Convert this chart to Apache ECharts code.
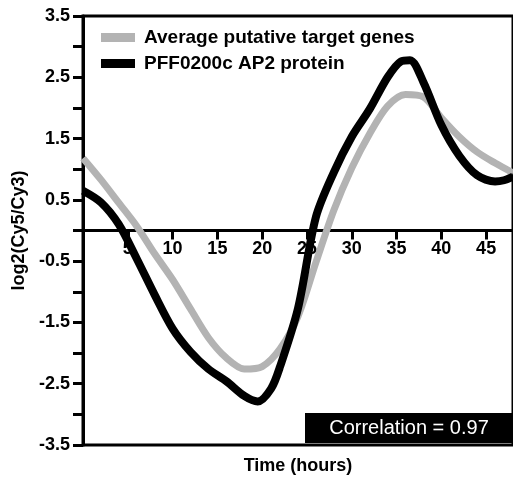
<!DOCTYPE html>
<html>
<head>
<meta charset="utf-8">
<script src="https://cdn.jsdelivr.net/npm/echarts@6/dist/echarts.min.js"></script>
<style>html,body{margin:0;padding:0;background:#fff}#chart{width:513px;height:477px}</style>
</head>
<body>
<div id="chart"></div>
<script>
var hoursAvg = [0,2,4,6,8,10,12,14,16,18,20,22,24,26,28,30,32,34,36,38,40,42,44,46,48];
var avgTargets = [1.18,0.83,0.45,0.07,-0.38,-0.80,-1.28,-1.75,-2.08,-2.26,-2.22,-1.93,-1.40,-0.52,0.33,1.02,1.58,2.03,2.22,2.18,1.84,1.53,1.28,1.10,0.94];
var hoursPFF = [0,2,4,6,8,10,12,14,16,18,19.5,21,22,24,26,28,30,32,34,35.5,36.5,38,40,42,44,46,47,48];
var pff0200c = [0.65,0.46,0.10,-0.46,-1.05,-1.60,-1.98,-2.26,-2.46,-2.70,-2.79,-2.58,-2.22,-1.27,0.22,0.95,1.53,1.98,2.50,2.76,2.78,2.42,1.72,1.22,0.90,0.80,0.82,0.88];
var yLabels = ['3.5','2.5','1.5','0.5','-0.5','-1.5','-2.5','-3.5'];
var seriesNames = ['Average putative target genes','PFF0200c AP2 protein'];
var correlationText = 'Correlation = 0.97';

function pairs(xs, ys){ return xs.map(function(x,i){ return [x, ys[i]]; }); }

var chart = echarts.init(document.getElementById('chart'), null, {renderer:'canvas'});
var font = 'Liberation Sans, Arial, sans-serif';
var gridTop = 16, gridBottom = 32, gridH = 477 - gridTop - gridBottom;
chart.setOption({
  animation:false,
  backgroundColor:'#fff',
  grid:{left:83, right:0, top:gridTop, bottom:gridBottom, show:true, borderColor:'#000', borderWidth:3,
        containLabel:false, outerBoundsMode:'none'},
  legend:{
    orient:'vertical', left:96, top:23, itemWidth:34, itemHeight:9, itemGap:7,
    icon:'rect',
    textStyle:{fontFamily:font, fontSize:19, fontWeight:'bold', color:'#000', padding:[0,0,0,4]},
    data:seriesNames
  },
  xAxis:[{
    type:'value', min:0, max:48, interval:5, position:'bottom', offset:-gridH/2,
    axisLine:{show:true, onZero:false, lineStyle:{color:'#000', width:3}},
    axisTick:{show:true, length:9, lineStyle:{color:'#000', width:3}},
    axisLabel:{fontFamily:font, fontSize:18, fontWeight:'bold', color:'#000', margin:10,
      formatter:function(v){ return (v===0||v>45)?'':String(v); }},
    splitLine:{show:false}
  },{
    type:'value', min:0, max:48, position:'bottom', gridIndex:0,
    axisLine:{show:false, onZero:false}, axisTick:{show:false}, axisLabel:{show:false}, splitLine:{show:false},
    name:'Time (hours)', nameLocation:'middle', nameGap:12,
    nameTextStyle:{fontFamily:font, fontSize:18, fontWeight:'bold', color:'#000'}
  }],
  yAxis:{
    type:'value', min:-3.5, max:3.5, interval:0.5,
    axisLine:{show:true, onZero:false, lineStyle:{color:'#000', width:3}},
    axisTick:{show:true, length:10, lineStyle:{color:'#000', width:3}},
    axisLabel:{fontFamily:font, fontSize:18, fontWeight:'bold', color:'#000', margin:13,
      formatter:function(v){ var s = v.toFixed(1); return yLabels.indexOf(s)>=0 ? s : ''; }},
    splitLine:{show:false},
    name:'log2(Cy5/Cy3)', nameLocation:'middle', nameGap:49, nameRotate:90,
    nameTextStyle:{fontFamily:font, fontSize:18, fontWeight:'bold', color:'#000'}
  },
  graphic:[{
    type:'group', right:0, bottom:34,
    children:[
      {type:'rect', shape:{x:0,y:0,width:208,height:30}, style:{fill:'#000'}},
      {type:'text', x:104, y:15, style:{text:correlationText, fill:'#fff', font:'20px '+font, textAlign:'center', textVerticalAlign:'middle'}}
    ]
  }],
  series:[{
    name:seriesNames[0], type:'line', data:pairs(hoursAvg, avgTargets), smooth:0.3,
    showSymbol:false, symbol:'none', color:'#b3b3b3', lineStyle:{width:7, color:'#b3b3b3'}, z:3
  },{
    name:seriesNames[1], type:'line', data:pairs(hoursPFF, pff0200c), smooth:0.3,
    showSymbol:false, symbol:'none', color:'#000', lineStyle:{width:8, color:'#000'}, z:4
  }]
});
</script>
</body>
</html>
